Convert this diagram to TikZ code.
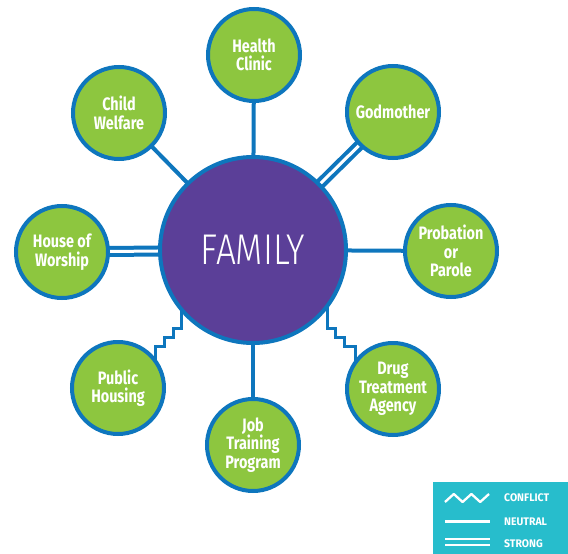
\documentclass[tikz,border=0pt]{standalone}
\usepackage{fontspec}
\setmainfont{Fira Sans}[FakeStretch=0.8]
\newfontfamily\famfont{Fira Sans}[UprightFont=* Light, FakeStretch=0.82]
\newfontfamily\legfont{Fira Sans}[UprightFont=* Bold, FakeStretch=0.95]
\usetikzlibrary{backgrounds,calc}
\definecolor{myblue}{HTML}{0E76BD}
\definecolor{mygreen}{HTML}{8DC63F}
\definecolor{mypurple}{HTML}{5B3F98}
\definecolor{myteal}{HTML}{27BDCC}
\begin{document}
\begin{tikzpicture}[x=1pt,y=-1pt,
 leaf/.style={circle,draw=myblue,line width=4pt,fill=mygreen,minimum size=92pt,inner sep=0pt,align=center,text=white,font=\bfseries\fontsize{18}{18.5}\selectfont},
 hub/.style={circle,draw=myblue,line width=4pt,fill=mypurple,minimum size=186pt,inner sep=0pt,text=white,font=\famfont\fontsize{43}{44}\selectfont},
 neutral/.style={draw=myblue,line width=4pt},
 strong/.style={draw=myblue,line width=4pt,double=white,double distance=3pt},
 conflict/.style={draw=myblue,line width=3pt,line join=miter},
 legline/.style={draw=white,line width=2.3pt},
 legtext/.style={anchor=west,text=white,inner sep=0pt,font=\legfont\fontsize{11}{12}\selectfont}]
\useasboundingbox (0,0) rectangle (568,554);

\node[hub] (family) at (253,250) {FAMILY};
\node[leaf] (health) at (254,55) {Health\\Clinic};
\node[leaf] (god) at (393,112) {Godmother};
\node[leaf] (prob) at (451,251) {Probation\\or\\Parole};
\node[leaf] (drug) at (393,389) {Drug\\Treatment\\Agency};
\node[leaf] (job) at (253,445) {Job\\Training\\Program};
\node[leaf] (pub) at (118,388) {Public\\Housing};
\node[leaf] (worship) at (62,252) {House of\\Worship};
\node[leaf] (child) at (119,113) {Child\\Welfare};

\begin{scope}[on background layer]
\draw[neutral] (family.center) -- (health.center);
\draw[strong] (family.center) -- (god.center);
\draw[neutral] (family.center) -- (prob.center);
\draw[neutral] (family.center) -- (job.center);
\draw[strong] (family.center) -- (worship.center);
\draw[neutral] (family.center) -- (child.center);
\draw[conflict] ($(family.center)+(74,0)$) -- ++(0,78) -- ++(8,0) -- ++(0,9) -- ++(9,0) -- ++(0,9) -- ++(11,0) -- (drug.center -| 355,0);
\draw[conflict] ($(family.center)+(-72,0)$) -- ++(0,78) -- ++(-8,0) -- ++(0,9) -- ++(-9,0) -- ++(0,9) -- ++(-9,0) -- (pub.center -| 155,0);
\end{scope}

\fill[myteal] (433,482) rectangle (568,554);
\draw[legline,line join=round] (445,502) -- (453.8,494) -- (462.6,502) -- (471.4,494) -- (480.2,502) -- (489,494);
\draw[legline] (445,521.5) -- (490,521.5);
\draw[legline,line width=2pt] (445,539) -- (490,539);
\draw[legline,line width=2pt] (445,545) -- (490,545);
\node[legtext] (lc) at (504,497.5) {CONFLICT};
\node[legtext] (ln) at (504,521.5) {NEUTRAL};
\node[legtext] (ls) at (504,543.5) {STRONG};
\end{tikzpicture}
\end{document}
